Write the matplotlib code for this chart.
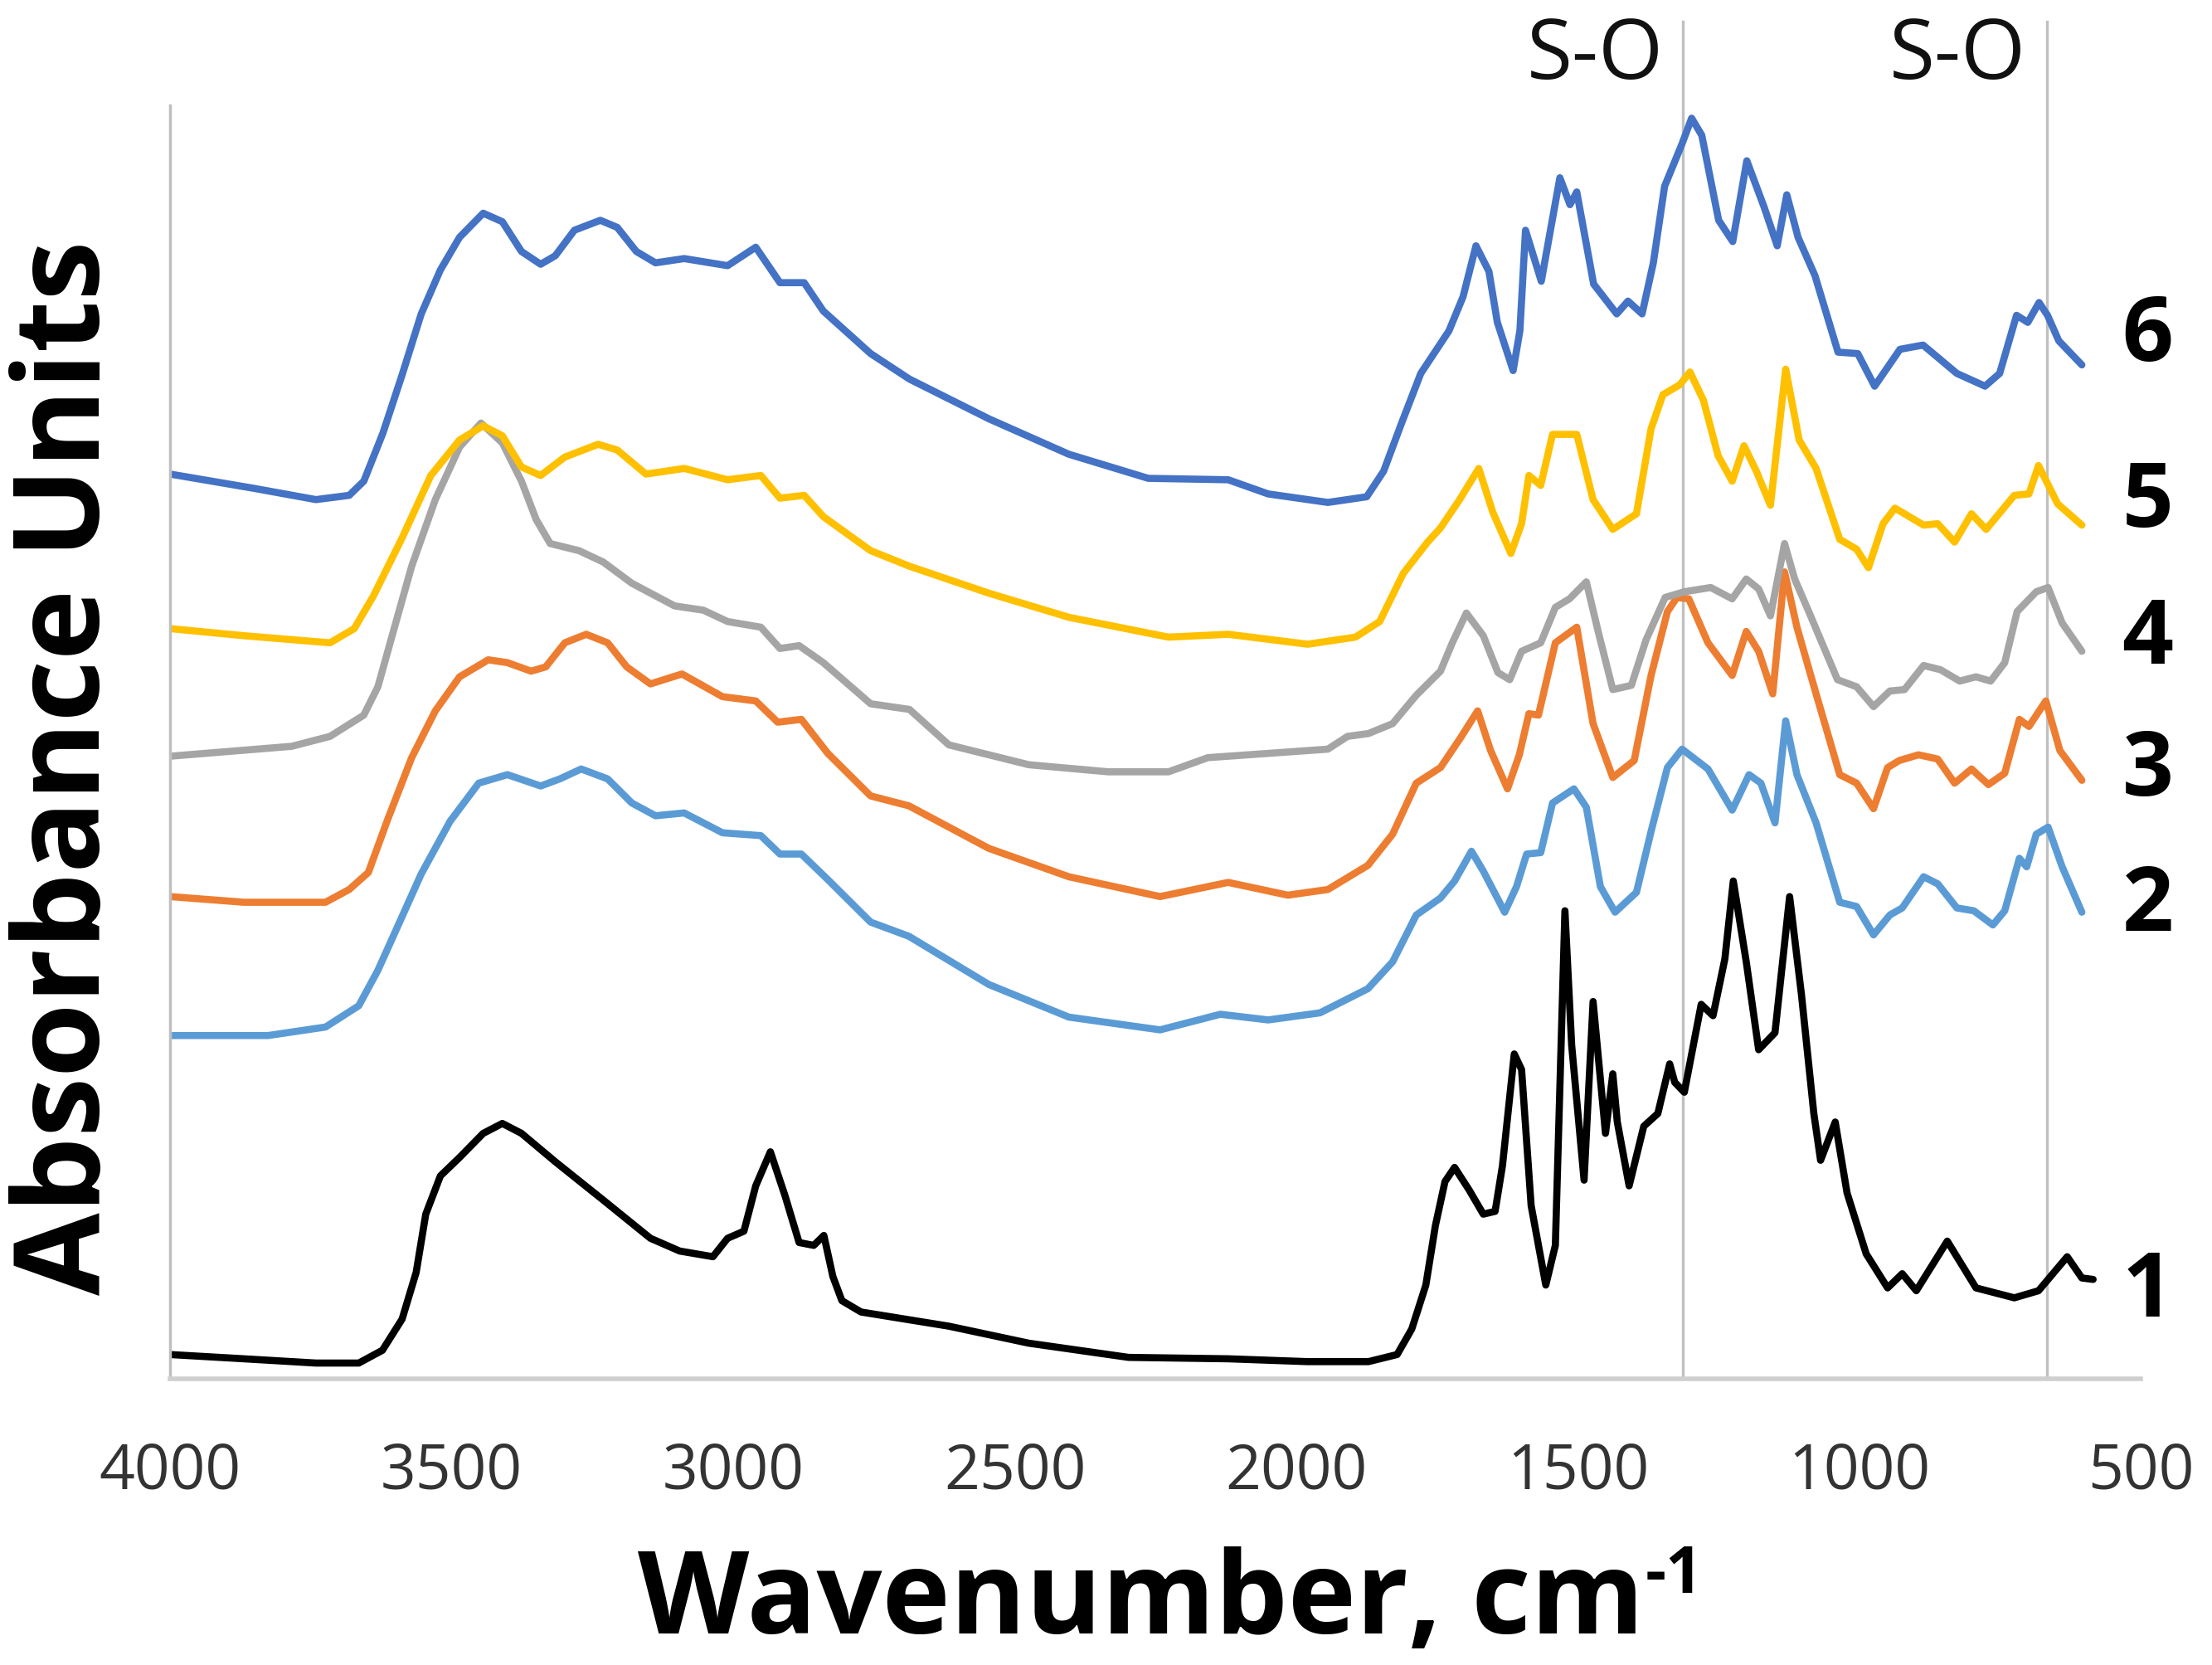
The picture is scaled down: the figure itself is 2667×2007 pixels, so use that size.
import matplotlib
matplotlib.use("Agg")
import matplotlib.pyplot as plt

# FTIR spectra, wavenumber (cm-1) vs absorbance (arbitrary, stacked)
wn1 = [4000, 3869, 3741, 3665, 3623, 3588, 3563, 3546, 3520, 3486, 3444, 3410, 3376, 3316, 3231, 3147,
       3095, 3036, 3010, 2981, 2960, 2934, 2908, 2883, 2857, 2839, 2823, 2807, 2773, 2617, 2475, 2298,
       2121, 1980, 1872, 1821, 1795, 1770, 1753, 1736, 1719, 1693, 1668, 1647, 1634, 1613, 1600, 1583,
       1557, 1540, 1523, 1511, 1489, 1473, 1451, 1438, 1430, 1409, 1383, 1358, 1337, 1328, 1311, 1281,
       1260, 1239, 1224, 1201, 1179, 1150, 1124, 1103, 1081, 1069, 1043, 1022, 988, 950, 924, 899,
       844, 793, 725, 682, 665, 631, 605, 585]
ab1 = [0.17, 0.14, 0.11, 0.11, 0.20, 0.42, 0.75, 1.16, 1.43, 1.56, 1.73, 1.80, 1.73, 1.53, 1.26, 0.99,
       0.90, 0.86, 0.99, 1.04, 1.36, 1.60, 1.29, 0.96, 0.94, 1.01, 0.72, 0.55, 0.47, 0.37, 0.25, 0.15,
       0.14, 0.12, 0.12, 0.17, 0.35, 0.66, 1.08, 1.39, 1.49, 1.33, 1.16, 1.18, 1.50, 2.29, 2.18, 1.22,
       0.66, 0.94, 3.30, 2.35, 1.40, 2.66, 1.73, 2.15, 1.81, 1.36, 1.78, 1.87, 2.22, 2.09, 2.02, 2.64,
       2.56, 2.96, 3.51, 2.94, 2.32, 2.44, 3.40, 2.71, 1.87, 1.54, 1.81, 1.31, 0.88, 0.64, 0.74, 0.62,
       0.97, 0.64, 0.57, 0.62, 0.70, 0.86, 0.71, 0.70]

wn2 = [4000, 3826, 3724, 3665, 3631, 3597, 3554, 3503, 3452, 3401, 3342, 3308, 3270, 3223, 3180, 3138,
       3087, 3019, 2951, 2917, 2879, 2832, 2756, 2688, 2546, 2404, 2242, 2135, 2050, 1958, 1873, 1829,
       1787, 1744, 1719, 1689, 1668, 1630, 1609, 1591, 1566, 1545, 1507, 1485, 1460, 1434, 1396, 1370,
       1341, 1315, 1269, 1226, 1196, 1175, 1150, 1131, 1111, 1077, 1035, 1005, 975, 946, 924, 886,
       861, 827, 797, 763, 742, 716, 703, 686, 665, 640, 605]
ab2 = [2.42, 2.42, 2.48, 2.63, 2.88, 3.18, 3.56, 3.93, 4.20, 4.26, 4.18, 4.23, 4.30, 4.23, 4.06, 3.97,
       3.99, 3.85, 3.83, 3.70, 3.70, 3.52, 3.22, 3.12, 2.78, 2.55, 2.46, 2.57, 2.53, 2.58, 2.75, 2.94,
       3.27, 3.39, 3.51, 3.72, 3.58, 3.29, 3.47, 3.70, 3.71, 4.06, 4.16, 4.03, 3.47, 3.29, 3.43, 3.86,
       4.31, 4.44, 4.30, 4.01, 4.26, 4.20, 3.92, 4.64, 4.26, 3.92, 3.36, 3.33, 3.13, 3.27, 3.32, 3.54,
       3.49, 3.32, 3.30, 3.20, 3.30, 3.67, 3.61, 3.84, 3.89, 3.61, 3.29]

wn3 = [4000, 3869, 3724, 3682, 3648, 3614, 3571, 3529, 3486, 3435, 3401, 3359, 3333, 3299, 3261, 3223,
       3189, 3147, 3091, 3019, 2960, 2921, 2879, 2832, 2756, 2688, 2546, 2404, 2242, 2121, 2015, 1944,
       1873, 1829, 1787, 1744, 1710, 1678, 1655, 1625, 1604, 1587, 1570, 1540, 1502, 1473, 1438, 1400,
       1370, 1341, 1324, 1303, 1269, 1226, 1201, 1179, 1154, 1133, 1111, 1077, 1035, 1005, 975, 950,
       929, 895, 861, 831, 801, 771, 742, 716, 699, 669, 644, 605]
ab3 = [3.40, 3.36, 3.36, 3.45, 3.57, 3.94, 4.38, 4.71, 4.95, 5.07, 5.05, 4.99, 5.02, 5.19, 5.25, 5.19,
       5.02, 4.90, 4.97, 4.81, 4.78, 4.63, 4.65, 4.41, 4.11, 4.04, 3.74, 3.54, 3.40, 3.50, 3.41, 3.45,
       3.62, 3.84, 4.20, 4.31, 4.51, 4.71, 4.43, 4.16, 4.40, 4.69, 4.68, 5.19, 5.30, 4.62, 4.24, 4.36,
       4.96, 5.41, 5.51, 5.50, 5.19, 4.96, 5.27, 5.13, 4.83, 5.69, 5.30, 4.83, 4.26, 4.20, 4.02, 4.31,
       4.36, 4.40, 4.37, 4.20, 4.30, 4.19, 4.27, 4.65, 4.60, 4.78, 4.43, 4.22]

wn4 = [4000, 3784, 3716, 3656, 3631, 3605, 3571, 3529, 3486, 3448, 3410, 3376, 3350, 3325, 3274, 3231,
       3180, 3104, 3053, 3010, 2951, 2917, 2883, 2840, 2756, 2687, 2617, 2475, 2334, 2227, 2157, 2050,
       1944, 1909, 1872, 1829, 1787, 1744, 1723, 1698, 1668, 1642, 1621, 1600, 1583, 1566, 1540, 1515,
       1485, 1464, 1438, 1405, 1379, 1345, 1311, 1264, 1226, 1201, 1179, 1158, 1133, 1115, 1090, 1039,
       1005, 975, 946, 920, 886, 856, 822, 793, 767, 742, 720, 686, 665, 640, 605]
ab4 = [4.39, 4.46, 4.53, 4.68, 4.88, 5.25, 5.73, 6.20, 6.57, 6.74, 6.60, 6.33, 6.06, 5.89, 5.84, 5.76,
       5.61, 5.45, 5.42, 5.34, 5.30, 5.15, 5.17, 5.05, 4.76, 4.72, 4.47, 4.33, 4.28, 4.28, 4.38, 4.41,
       4.44, 4.53, 4.55, 4.62, 4.82, 4.99, 5.19, 5.40, 5.24, 4.98, 4.93, 5.13, 5.16, 5.19, 5.44, 5.50,
       5.62, 5.27, 4.86, 4.89, 5.21, 5.51, 5.55, 5.58, 5.50, 5.64, 5.57, 5.38, 5.89, 5.64, 5.41, 4.93,
       4.88, 4.74, 4.85, 4.86, 5.03, 5.00, 4.92, 4.95, 4.92, 5.05, 5.41, 5.55, 5.58, 5.33, 5.13]

wn5 = [4000, 3869, 3716, 3673, 3639, 3588, 3537, 3486, 3444, 3410, 3376, 3342, 3299, 3240, 3206, 3155,
       3087, 3010, 2951, 2917, 2874, 2840, 2756, 2687, 2546, 2404, 2227, 2121, 1980, 1895, 1852, 1810,
       1767, 1744, 1710, 1676, 1651, 1619, 1600, 1587, 1566, 1545, 1502, 1473, 1438, 1396, 1370, 1349,
       1319, 1301, 1277, 1251, 1226, 1205, 1183, 1158, 1131, 1107, 1077, 1035, 1005, 984, 958, 937,
       886, 861, 831, 801, 775, 725, 699, 682, 648, 605]
ab5 = [5.29, 5.24, 5.19, 5.29, 5.52, 5.93, 6.37, 6.62, 6.72, 6.65, 6.43, 6.37, 6.50, 6.59, 6.55, 6.38,
       6.42, 6.34, 6.37, 6.21, 6.23, 6.08, 5.84, 5.73, 5.54, 5.37, 5.23, 5.25, 5.18, 5.23, 5.34, 5.68,
       5.90, 6.00, 6.20, 6.42, 6.11, 5.82, 6.03, 6.37, 6.30, 6.66, 6.66, 6.20, 5.99, 6.10, 6.70, 6.94,
       7.01, 7.10, 6.90, 6.51, 6.33, 6.58, 6.40, 6.16, 7.12, 6.62, 6.42, 5.92, 5.85, 5.72, 6.03, 6.14,
       6.02, 6.03, 5.90, 6.10, 5.99, 6.23, 6.24, 6.44, 6.17, 6.02]

wn6 = [4000, 3852, 3741, 3682, 3656, 3622, 3588, 3554, 3520, 3486, 3444, 3410, 3376, 3342, 3316, 3282,
       3236, 3206, 3172, 3138, 3087, 3010, 2960, 2917, 2874, 2840, 2756, 2687, 2546, 2404, 2263, 2121,
       2050, 1944, 1875, 1845, 1814, 1779, 1729, 1704, 1681, 1658, 1643, 1615, 1603, 1593, 1565, 1532,
       1514, 1502, 1472, 1431, 1411, 1386, 1366, 1346, 1315, 1298, 1280, 1250, 1225, 1200, 1169, 1146,
       1129, 1109, 1079, 1038, 1003, 973, 928, 887, 827, 777, 751, 721, 701, 681, 666, 646, 605]
ab6 = [6.38, 6.28, 6.20, 6.23, 6.33, 6.67, 7.08, 7.51, 7.82, 8.05, 8.22, 8.16, 7.95, 7.86, 7.92, 8.10,
       8.17, 8.12, 7.95, 7.87, 7.90, 7.85, 7.98, 7.73, 7.73, 7.53, 7.23, 7.05, 6.77, 6.52, 6.35, 6.34,
       6.24, 6.18, 6.22, 6.40, 6.73, 7.09, 7.39, 7.63, 7.99, 7.81, 7.45, 7.11, 7.39, 8.10, 7.74, 8.47,
       8.28, 8.37, 7.72, 7.51, 7.60, 7.51, 7.87, 8.41, 8.71, 8.89, 8.77, 8.17, 8.02, 8.59, 8.26, 7.99,
       8.35, 8.05, 7.78, 7.24, 7.23, 7.00, 7.26, 7.29, 7.09, 7.00, 7.09, 7.50, 7.45, 7.59, 7.50, 7.32, 7.15]

curves = [(wn1, ab1, "#000000"), (wn2, ab2, "#5B9BD5"), (wn3, ab3, "#ED7D31"),
          (wn4, ab4, "#A5A5A5"), (wn5, ab5, "#FFC000"), (wn6, ab6, "#4472C4")]

curve_names = ["1", "2", "3", "4", "5", "6"]
name_levels = [0.61, 3.33, 4.28, 5.21, 6.18, 7.35]

so_lines = [1313, 667]
so_label_pos = [1470, 825]
x_ticks = [4000, 3500, 3000, 2500, 2000, 1500, 1000, 500]

plt.rcParams['font.family'] = ['Open Sans', 'DejaVu Sans']

fig = plt.figure(figsize=(26.67, 20.08), dpi=100)
ax = fig.add_axes([0.0769, 0.1719, 0.891, 0.7643])

for wn, ab, col in curves:
    ax.plot(wn, ab, color=col, lw=6.2, solid_joinstyle='round', solid_capstyle='round')

for w in so_lines:
    ax.plot([w, w], [0, 9.57], color="#c0c0c0", lw=2.4, clip_on=False, zorder=0)
for w in so_label_pos:
    ax.text(w, 9.33, "S-O", fontsize=72, ha='center', va='center', color='#111111')

for name, lev in zip(curve_names, name_levels):
    ax.text(488, lev, name, fontsize=78, fontweight='bold', ha='center', va='center',
            clip_on=False)

ax.set_xlim(4000, 500)
ax.set_ylim(0, 8.98)
ax.set_xticks(x_ticks)
ax.set_xticklabels([str(t) for t in x_ticks], fontsize=54, color='#333333')
ax.set_yticks([])
ax.tick_params(axis='x', length=0, pad=54)

for s in ['top', 'right']:
    ax.spines[s].set_visible(False)
ax.spines['left'].set_color('#bfbfbf')
ax.spines['left'].set_linewidth(2.5)
ax.spines['bottom'].set_color('#cfcfcf')
ax.spines['bottom'].set_linewidth(4)

fig.text(0.031, 0.539, "Absorbance Units", rotation=90, fontsize=104, fontweight='bold',
         ha='center', va='center')
fig.text(0.7432, 0.0195, "Wavenumber, cm", fontsize=100, fontweight='bold',
         ha='right', va='baseline')
fig.text(0.7436, 0.0440, "-1", fontsize=56, fontweight='bold',
         ha='left', va='baseline')

fig.savefig("out.png", dpi=100)
